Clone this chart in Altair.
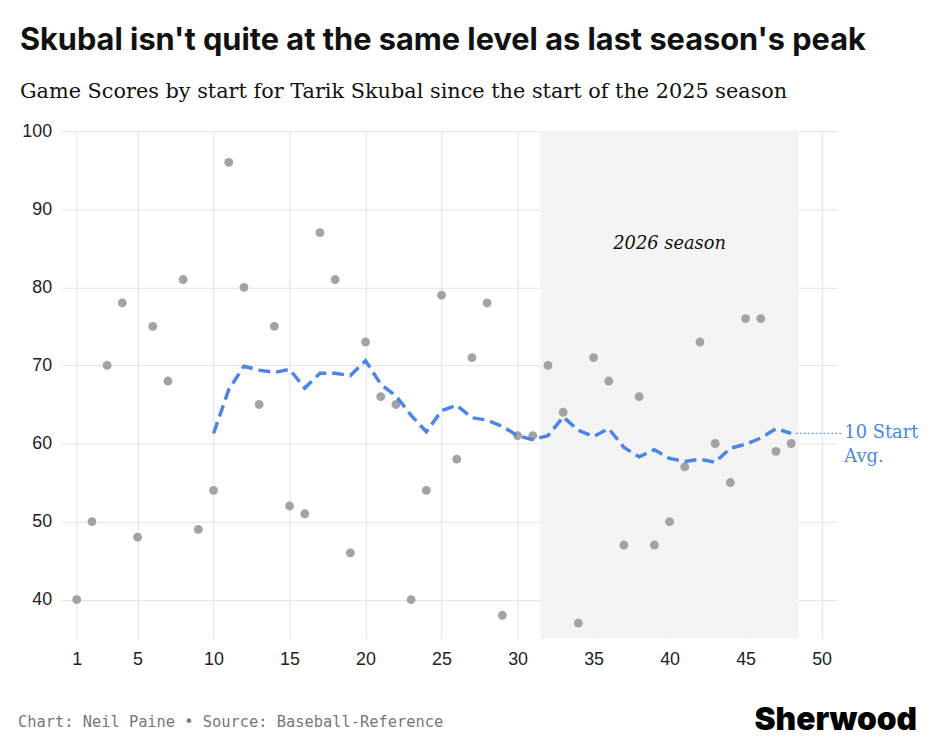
import altair as alt
import pandas as pd

starts = list(range(1, 49))
game_scores = [40, 50, 70, 78, 48, 75, 68, 81, 49, 54,
               96, 80, 65, 75, 52, 51, 87, 81, 46, 73,
               66, 65, 40, 54, 79, 58, 71, 78, 38, 61,
               61, 70, 64, 37, 71, 68, 47, 66, 47, 50,
               57, 73, 60, 55, 76, 76, 59, 60]
season_2026_start = 31.5
season_2026_end = 48.5

df = pd.DataFrame({"start": starts, "score": game_scores})

x_scale = alt.Scale(domain=[0, 51], nice=False)
y_scale = alt.Scale(domain=[35, 100], nice=False)
x_axis = alt.Axis(values=[1, 5, 10, 15, 20, 25, 30, 35, 40, 45, 50], title=None,
                  domain=False, ticks=False, labelFontSize=18, labelPadding=12,
                  labelColor="#222", gridColor="#e3e3e3", labelFont="Liberation Sans")
y_axis = alt.Axis(values=[40, 50, 60, 70, 80, 90, 100], title=None, domain=False,
                  ticks=False, labelFontSize=18, labelPadding=10, labelColor="#222",
                  gridColor="#e3e3e3", labelFont="Liberation Sans")

band = alt.Chart(pd.DataFrame({"a": [season_2026_start], "b": [season_2026_end]})).mark_rect(
    color="#f4f4f4").encode(
    x=alt.X("a:Q", scale=x_scale, axis=x_axis), x2="b:Q",
    y=alt.value(0), y2=alt.value(512))

band_label = alt.Chart(pd.DataFrame({"x": [40], "y": [85.6], "t": ["2026 season"]})).mark_text(
    font="DejaVu Serif", fontStyle="italic", fontSize=18, color="#111").encode(
    x=alt.X("x:Q", scale=x_scale), y=alt.Y("y:Q", scale=y_scale), text="t:N")

points = alt.Chart(df).mark_circle(size=80, color="#a3a3a3", opacity=1).encode(
    x=alt.X("start:Q", scale=x_scale, axis=x_axis),
    y=alt.Y("score:Q", scale=y_scale, axis=y_axis))

avg = alt.Chart(df).transform_window(
    avg="mean(score)", n="count()", frame=[-9, 0], sort=[{"field": "start"}]
).transform_filter("datum.n >= 10").mark_line(
    color="#4a86e8", strokeWidth=3.5, strokeDash=[12, 6]).encode(
    x=alt.X("start:Q", scale=x_scale), y=alt.Y("avg:Q", scale=y_scale))

leader = alt.Chart(pd.DataFrame({"x": [48.3], "x2": [51.3], "y": [61.3]})).mark_rule(
    color="#4a86e8", strokeDash=[2, 2], clip=False).encode(
    x=alt.X("x:Q", scale=x_scale), x2="x2:Q", y=alt.Y("y:Q", scale=y_scale))

avg_label = alt.Chart(pd.DataFrame({"x": [51.5, 51.5], "y": [61.3, 58.3],
                                    "t": ["10 Start", "Avg."]})).mark_text(
    font="DejaVu Serif", fontSize=18, color="#4a86e8", align="left", clip=False).encode(
    x=alt.X("x:Q", scale=x_scale), y=alt.Y("y:Q", scale=y_scale), text="t:N")

footer = alt.Chart(pd.DataFrame({"t": ["Chart: Neil Paine \u2022 Source: Baseball-Reference"]})).mark_text(
    font="DejaVu Sans Mono", fontSize=15.5, color="#777", align="left").encode(
    x=alt.value(-44), y=alt.value(596), text="t:N")

logo = alt.Chart(pd.DataFrame({"t": ["Sherwood"]})).mark_text(
    font="Inter", fontWeight=900, fontSize=32, color="#000", align="right").encode(
    x=alt.value(863), y=alt.value(594), text="t:N")

chart = alt.layer(band, band_label, points, avg, leader, avg_label, footer, logo).properties(
    width=782, height=512,
    autosize=alt.AutoSizeParams(type="none"),
    padding={"left": 54, "top": 121, "right": 89, "bottom": 107},
    title=alt.TitleParams(
        "Skubal isn't quite at the same level as last season's peak",
        subtitle="Game Scores by start for Tarik Skubal since the start of the 2025 season",
        anchor="start", font="Inter", fontSize=31, fontWeight="bold", color="#111",
        subtitleFont="DejaVu Serif", subtitleFontSize=21, subtitleColor="#111",
        subtitlePadding=25, offset=19, dx=2)
).configure_view(stroke=None)

chart.save("out.html", embed_options={"renderer": "svg", "actions": False})
